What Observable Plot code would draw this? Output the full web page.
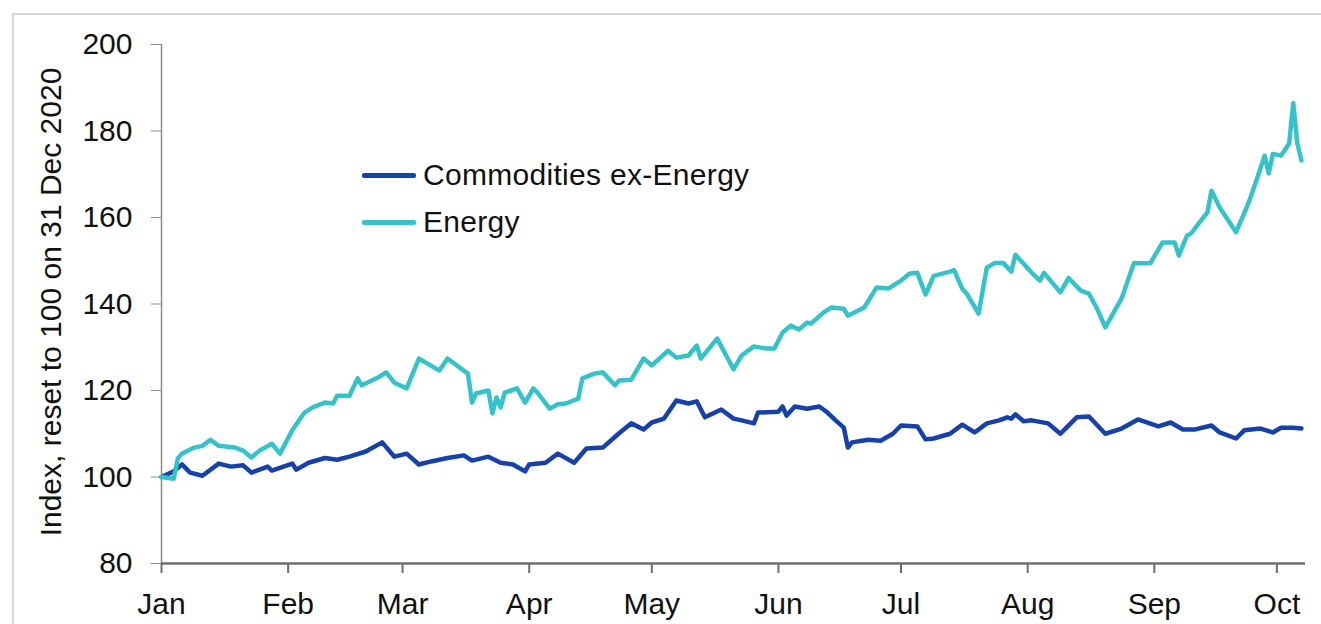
<!DOCTYPE html>
<html>
<head>
<meta charset="utf-8">
<script src="https://cdn.jsdelivr.net/npm/d3@7"></script>
<script src="https://cdn.jsdelivr.net/npm/@observablehq/plot@0.6"></script>
<style>
  html, body { margin: 0; padding: 0; background: #fff; }
  body { width: 1321px; height: 624px; overflow: hidden; position: relative;
         font-family: "Liberation Sans", Arial, sans-serif; color: #111; }
  #frame { position: absolute; left: 12px; top: 13px; width: 1340px; height: 700px;
           border: 2px solid #d3d5d8; box-sizing: border-box; }
  #chart { position: absolute; left: 0; top: 0; }
  #ylabel { position: absolute; left: 50.5px; top: 301.5px; width: 0; height: 0; }
  #ylabel span { position: absolute; left: 0; top: 0; white-space: nowrap; font-size: 30px;
                 line-height: 30px; transform: translate(-50%, -50%) rotate(-90deg); }
  .leg { position: absolute; left: 362px; height: 30px; display: flex; align-items: center; }
  .leg .sw { width: 54px; height: 5px; border-radius: 2px; }
  .leg .lt { margin-left: 7px; font-size: 30px; line-height: 30px; white-space: nowrap; letter-spacing: 0.3px; }
</style>
</head>
<body>
<div id="frame"></div>
<div id="chart"></div>
<div id="ylabel"><span></span></div>
<div id="legend"></div>
<script>
// ---- data ----
const seriesNames = ["Commodities ex-Energy", "Energy"];
const seriesColors = ["#1640aa", "#35c3c9"];
const yLabel = "Index, reset to 100 on 31 Dec 2020";
const yTicks = [80, 100, 120, 140, 160, 180, 200];
const monthTicks = ["2021-01-01","2021-02-01","2021-03-01","2021-04-01","2021-05-01","2021-06-01","2021-07-01","2021-08-01","2021-09-01","2021-10-01"];
const monthLabels = ["Jan","Feb","Mar","Apr","May","Jun","Jul","Aug","Sep","Oct"];
const xDomain = ["2021-01-01", "2021-10-08"];
const yDomain = [80, 200];

const commodDates = ["2021-01-01","2021-01-04","2021-01-06","2021-01-08","2021-01-11","2021-01-15","2021-01-18","2021-01-21","2021-01-23","2021-01-27","2021-01-28",
  "2021-02-02","2021-02-03","2021-02-06","2021-02-10","2021-02-13","2021-02-16","2021-02-20","2021-02-24","2021-02-27",
  "2021-03-02","2021-03-05","2021-03-08","2021-03-12","2021-03-16","2021-03-18","2021-03-22","2021-03-25","2021-03-28","2021-03-31",
  "2021-04-01","2021-04-05","2021-04-08","2021-04-12","2021-04-15","2021-04-19","2021-04-23","2021-04-26","2021-04-29",
  "2021-05-01","2021-05-04","2021-05-07","2021-05-10","2021-05-12","2021-05-14","2021-05-18","2021-05-21","2021-05-23","2021-05-26","2021-05-27",
  "2021-06-01","2021-06-02","2021-06-03","2021-06-05","2021-06-08","2021-06-11","2021-06-13","2021-06-15","2021-06-17","2021-06-18","2021-06-19","2021-06-23","2021-06-26","2021-06-29",
  "2021-07-01","2021-07-05","2021-07-07","2021-07-09","2021-07-13","2021-07-16","2021-07-19","2021-07-22","2021-07-25","2021-07-27","2021-07-28","2021-07-29","2021-07-31",
  "2021-08-02","2021-08-06","2021-08-09","2021-08-13","2021-08-16","2021-08-20","2021-08-24","2021-08-28",
  "2021-09-02","2021-09-05","2021-09-08","2021-09-11","2021-09-15","2021-09-17","2021-09-21","2021-09-23","2021-09-27","2021-09-30",
  "2021-10-02","2021-10-05","2021-10-07"];
const commodValues = [100.0,101.3,102.9,101.0,100.3,103.1,102.4,102.7,101.0,102.4,101.5,
  103.1,101.7,103.3,104.4,104.0,104.7,105.9,108.0,104.7,
  105.4,102.9,103.6,104.4,105.0,103.8,104.7,103.3,102.9,101.3,
  102.9,103.3,105.4,103.3,106.6,106.8,110.1,112.4,111.0,
  112.6,113.5,117.7,117.0,117.5,113.8,115.6,113.5,113.1,112.4,114.9,
  115.1,116.3,114.2,116.3,115.8,116.3,114.9,113.1,111.4,106.8,108.0,108.6,108.4,110.0,
  111.9,111.7,108.7,108.9,110.0,112.1,110.3,112.4,113.1,113.8,113.5,114.5,112.9,
  113.1,112.4,110.0,113.8,114.0,110.0,111.2,113.3,
  111.7,112.6,111.0,111.0,111.9,110.3,108.9,110.8,111.2,110.3,
  111.4,111.4,111.2];

const energyDates = ["2021-01-01","2021-01-04","2021-01-05","2021-01-06","2021-01-09","2021-01-11","2021-01-13","2021-01-15","2021-01-19","2021-01-21","2021-01-23","2021-01-25","2021-01-28","2021-01-30",
  "2021-02-02","2021-02-05","2021-02-07","2021-02-10","2021-02-12","2021-02-13","2021-02-16","2021-02-18","2021-02-19","2021-02-23","2021-02-25","2021-02-27",
  "2021-03-02","2021-03-05","2021-03-10","2021-03-12","2021-03-16","2021-03-17","2021-03-18","2021-03-19","2021-03-22","2021-03-23","2021-03-24","2021-03-25","2021-03-26","2021-03-29","2021-03-31",
  "2021-04-02","2021-04-03","2021-04-06","2021-04-08","2021-04-10","2021-04-13","2021-04-14","2021-04-17","2021-04-19","2021-04-22","2021-04-23","2021-04-26","2021-04-29",
  "2021-05-01","2021-05-05","2021-05-07","2021-05-10","2021-05-12","2021-05-13","2021-05-17","2021-05-21","2021-05-23","2021-05-26","2021-05-29","2021-05-31",
  "2021-06-02","2021-06-04","2021-06-06","2021-06-08","2021-06-09","2021-06-12","2021-06-14","2021-06-17","2021-06-18","2021-06-22","2021-06-25","2021-06-28",
  "2021-07-01","2021-07-03","2021-07-05","2021-07-07","2021-07-09","2021-07-13","2021-07-14","2021-07-16","2021-07-17","2021-07-20","2021-07-22","2021-07-24","2021-07-26","2021-07-28","2021-07-29",
  "2021-08-02","2021-08-04","2021-08-05","2021-08-09","2021-08-11","2021-08-14","2021-08-16","2021-08-18","2021-08-20","2021-08-24","2021-08-27","2021-08-31",
  "2021-09-03","2021-09-06","2021-09-07","2021-09-09","2021-09-10","2021-09-12","2021-09-14","2021-09-15","2021-09-17","2021-09-21","2021-09-24","2021-09-26","2021-09-28","2021-09-29","2021-09-30",
  "2021-10-02","2021-10-04","2021-10-05","2021-10-06","2021-10-07"];
const energyValues = [100.0,99.6,104.3,105.4,106.8,107.2,108.6,107.2,106.8,106.1,104.5,106.1,107.7,105.4,
  110.8,114.9,116.1,117.2,117.0,118.8,118.8,122.8,121.2,123.0,124.2,121.8,
  120.5,127.4,124.6,127.4,124.6,123.9,117.2,119.3,120.0,114.7,118.4,116.1,119.5,120.5,117.2,
  120.5,119.5,115.8,116.8,117.0,118.1,122.8,123.9,124.2,121.2,122.3,122.5,127.4,
  125.8,129.2,127.6,128.1,130.4,127.4,132.0,124.9,128.1,130.2,129.7,129.7,
  133.4,135.0,134.1,135.7,135.5,138.0,139.2,138.9,137.3,139.2,143.8,143.6,
  145.4,147.0,147.2,142.2,146.5,147.5,147.8,143.5,142.5,137.8,148.4,149.5,149.5,147.5,151.4,
  147.2,145.4,147.2,142.7,146.0,143.1,142.4,138.9,134.6,141.3,149.4,149.4,
  154.2,154.2,151.2,155.8,156.3,158.8,161.2,166.2,162.3,156.6,163.2,168.6,174.3,170.2,174.7,
  174.3,177.1,186.4,177.1,173.2];

// ---- build tables ----
const parse = d3.utcParse("%Y-%m-%d");
const rows = [
  ...commodDates.map((d, i) => ({date: parse(d), value: commodValues[i], series: seriesNames[0]})),
  ...energyDates.map((d, i) => ({date: parse(d), value: energyValues[i], series: seriesNames[1]}))
];
const ticksX = monthTicks.map(parse);
const labelOf = new Map(ticksX.map((d, i) => [+d, monthLabels[i]]));

const W = 1321, H = 624;
const chart = Plot.plot({
  width: W, height: H,
  marginLeft: 161, marginRight: 16, marginTop: 44, marginBottom: 61,
  style: {fontFamily: '"Liberation Sans", Arial, sans-serif', fontSize: "30px", color: "#111", background: "transparent", overflow: "visible"},
  x: {type: "utc", domain: xDomain.map(parse)},
  y: {domain: yDomain},
  color: {domain: seriesNames, range: seriesColors},
  marks: [
    Plot.ruleX([parse(xDomain[0])], {stroke: "#8c8c8c", strokeWidth: 1.5}),
    Plot.axisY(yTicks, {tickSize: 10, tickPadding: 19, stroke: "#8c8c8c", fill: "#111", label: null, fontSize: 30}),
    Plot.axisX(ticksX, {tickSize: 10, tickPadding: 19, stroke: "#6e6e6e", strokeWidth: 2, fill: "#111", label: null, fontSize: 30,
                         tickFormat: d => labelOf.get(+d)}),
    Plot.ruleY([yDomain[0]], {stroke: "#6e6e6e", strokeWidth: 2.5}),
    Plot.line(rows, {x: "date", y: "value", z: "series", stroke: "series", strokeWidth: 4.5,
                     strokeLinejoin: "round", strokeLinecap: "round"})
  ]
});
document.getElementById("chart").appendChild(chart);

document.querySelector("#ylabel span").textContent = yLabel;

// legend
const legendY = [175, 222];
const leg = document.getElementById("legend");
seriesNames.forEach((name, i) => {
  const item = document.createElement("div");
  item.className = "leg";
  item.style.top = (legendY[i] - 15) + "px";
  const sw = document.createElement("span");
  sw.className = "sw";
  sw.style.background = seriesColors[i];
  const t = document.createElement("span");
  t.className = "lt";
  t.textContent = name;
  item.appendChild(sw);
  item.appendChild(t);
  leg.appendChild(item);
});
</script>
</body>
</html>
